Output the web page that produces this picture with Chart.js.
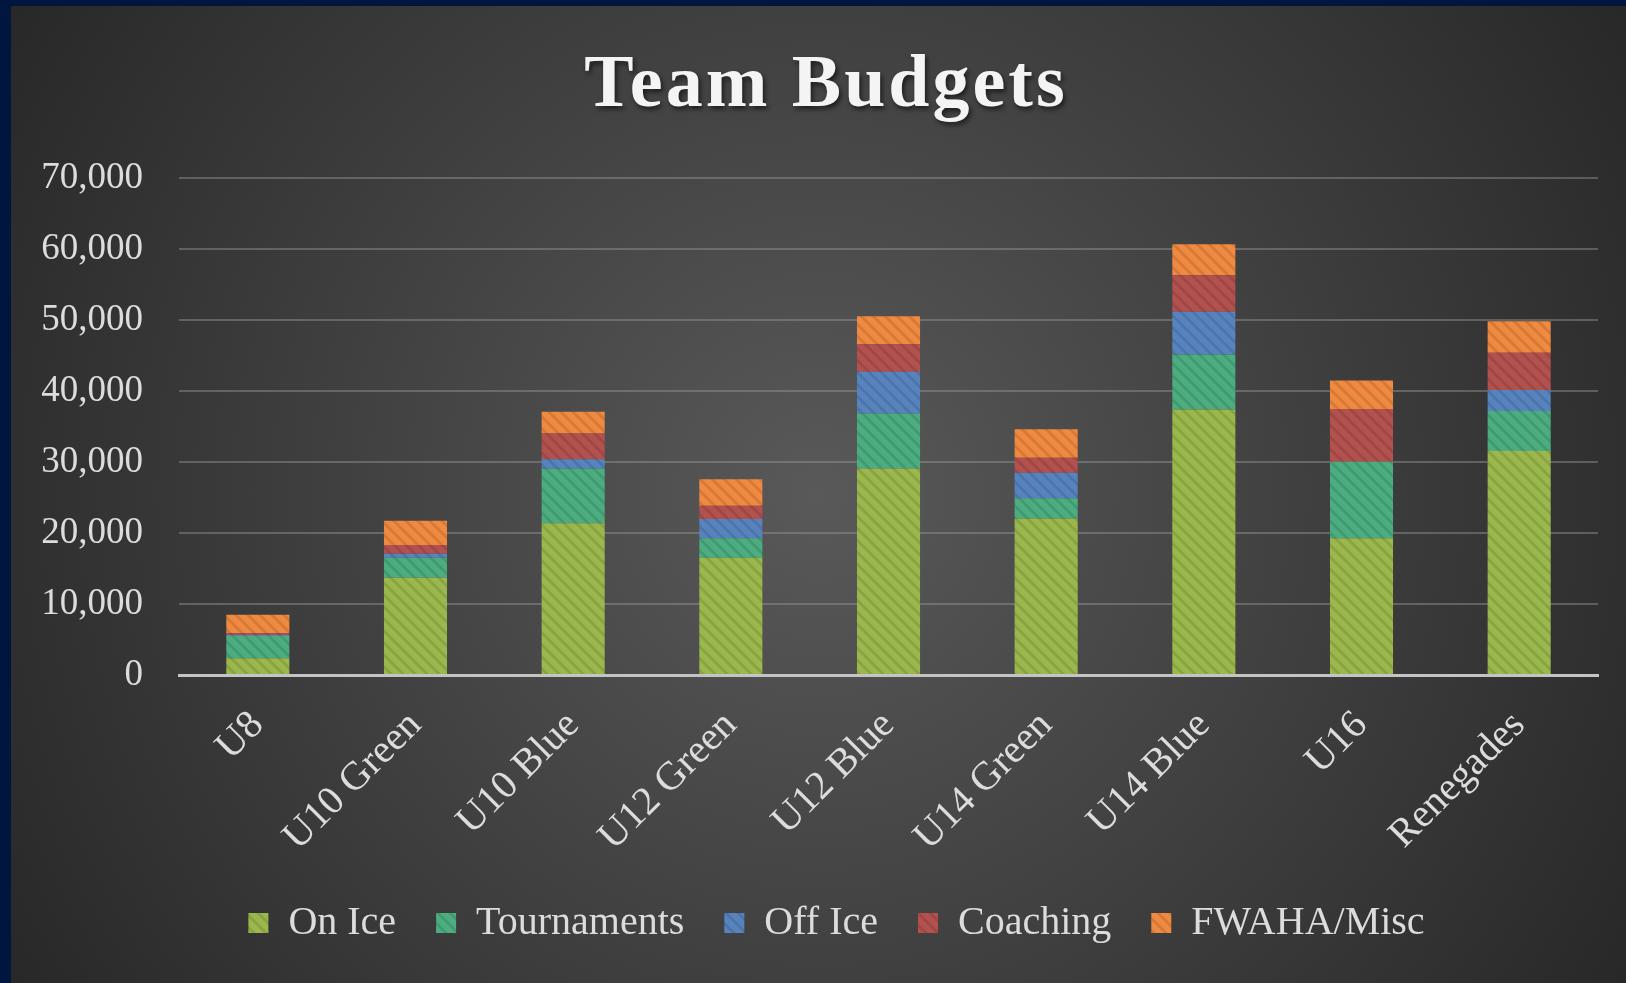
<!DOCTYPE html>
<html>
<head>
<meta charset="utf-8">
<script src="https://cdn.jsdelivr.net/npm/chart.js"></script>
<style>
  html, body { margin: 0; padding: 0; background: #00163f; overflow: hidden; }
  #wrap { position: absolute; left: 11px; top: 6px; width: 1615px; height: 977px; }
</style>
</head>
<body>
<div id="wrap"><canvas id="budgetChart"></canvas></div>
<script>
const categories = ['U8', 'U10 Green', 'U10 Blue', 'U12 Green', 'U12 Blue', 'U14 Green', 'U14 Blue', 'U16', 'Renegades'];
const onIce = [2350, 13700, 21360, 16520, 29100, 22040, 37410, 19250, 31540];
const tournaments = [3140, 2820, 7740, 2730, 7740, 2840, 7740, 10790, 5630];
const offIce = [150, 560, 1270, 2720, 5860, 3600, 6000, 0, 2960];
const coaching = [250, 1220, 3660, 1870, 3900, 2110, 5170, 7410, 5250];
const fwahaMisc = [2580, 3420, 3040, 3720, 3940, 4010, 4360, 4030, 4460];
const yTicks = [0, 10000, 20000, 30000, 40000, 50000, 60000, 70000];

const serif = "'Liberation Serif', 'DejaVu Serif', serif";
const ctx = document.getElementById('budgetChart').getContext('2d');

// diagonal hatch like the office "light downward diagonal" fill
function hatch(color) {
    const tile = document.createElement('canvas');
    tile.width = 12;
    tile.height = 12;
    const g = tile.getContext('2d');
    g.fillStyle = color;
    g.fillRect(0, 0, 12, 12);
    g.strokeStyle = 'rgba(0,0,0,0.11)';
    g.lineWidth = 3;
    g.beginPath();
    g.moveTo(-3, -3); g.lineTo(15, 15);
    g.moveTo(-3, 9); g.lineTo(3, 15);
    g.moveTo(9, -3); g.lineTo(15, 3);
    g.stroke();
    return ctx.createPattern(tile, 'repeat');
}

const backdrop = {
    id: 'backdrop',
    afterLayout(chart) {
        // legend sits a little right of centre in the original
        if (chart.legend) {
            chart.legend.left += 32;
            chart.legend.right += 32;
        }
    },
    beforeDraw(chart) {
        const c = chart.ctx;
        const w = chart.width, h = chart.height;
        c.save();
        const grad = c.createRadialGradient(w * 0.5, h * 0.5, 0, w * 0.5, h * 0.5, 980);
        grad.addColorStop(0, '#595959');
        grad.addColorStop(1, '#262626');
        c.fillStyle = grad;
        c.fillRect(0, 0, w, h);

        c.font = 'bold 74px ' + serif;
        c.letterSpacing = '3px';
        c.textAlign = 'center';
        c.textBaseline = 'alphabetic';
        c.shadowColor = 'rgba(0,0,0,0.6)';
        c.shadowBlur = 5;
        c.shadowOffsetX = 2;
        c.shadowOffsetY = 3;
        c.fillStyle = '#f4f4f4';
        c.fillText('Team Budgets', 815, 100);
        c.restore();
    }
};

new Chart(ctx, {
    type: 'bar',
    data: {
        labels: categories,
        datasets: [
            { label: 'On Ice', data: onIce, backgroundColor: hatch('#9bb84d') },
            { label: 'Tournaments', data: tournaments, backgroundColor: hatch('#4cae80') },
            { label: 'Off Ice', data: offIce, backgroundColor: hatch('#5784bf') },
            { label: 'Coaching', data: coaching, backgroundColor: hatch('#b3514e') },
            { label: 'FWAHA/Misc', data: fwahaMisc, backgroundColor: hatch('#f08a40') }
        ]
    },
    options: {
        responsive: true,
        maintainAspectRatio: false,
        animation: false,
        barPercentage: 0.4,
        categoryPercentage: 1.0,
        layout: {
            padding: { top: 172, left: 0, right: 28, bottom: 30 }
        },
        plugins: {
            title: { display: false },
            tooltip: { enabled: false },
            legend: {
                position: 'bottom',
                labels: {
                    color: '#dcdcdc',
                    font: { family: serif, size: 40 },
                    boxWidth: 20,
                    boxHeight: 20,
                    padding: 40
                }
            }
        },
        scales: {
            x: {
                stacked: true,
                grid: { display: false, drawTicks: false },
                border: { display: true, color: '#c4c4c4', width: 3 },
                ticks: {
                    color: '#dcdcdc',
                    font: { family: serif, size: 40 },
                    minRotation: 45,
                    maxRotation: 45,
                    padding: 27
                },
                afterFit(scale) { scale.height = 188; }
            },
            y: {
                stacked: true,
                min: 0,
                max: 70000,
                afterBuildTicks(scale) { scale.ticks = yTicks.map(v => ({ value: v })); },
                grid: { color: 'rgba(150,150,150,0.45)', lineWidth: 2, drawTicks: false },
                border: { display: false },
                ticks: {
                    color: '#dcdcdc',
                    font: { family: serif, size: 37 },
                    padding: 36,
                    callback: v => v.toLocaleString('en-US')
                },
                afterFit(scale) { scale.width = 168; }
            }
        }
    },
    plugins: [backdrop]
});
</script>
</body>
</html>
